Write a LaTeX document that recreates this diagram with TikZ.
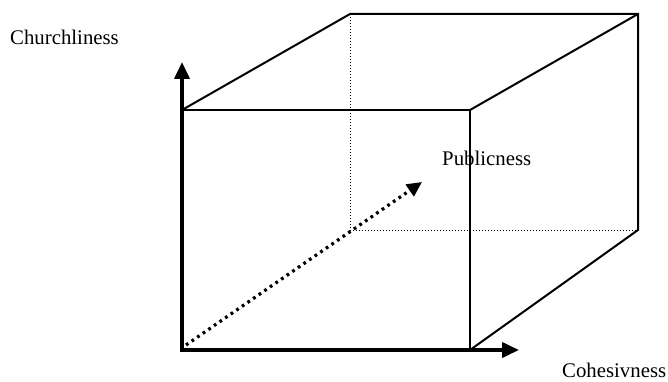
\documentclass[tikz,border=0pt]{standalone}
\usepackage{fontspec}
\setmainfont{Liberation Serif}
\usetikzlibrary{arrows.meta}
\begin{document}
\begin{tikzpicture}[x=1pt,y=-1pt,
  edge/.style={line width=2pt},
  hidden/.style={line width=1pt,dash pattern=on 1.2pt off 1.8pt},
  axis/.style={line width=3.8pt,-{Triangle[length=17pt,width=15pt]}},
  depth/.style={line width=3.2pt,dash pattern=on 2.8pt off 4pt,-{Triangle[length=15pt,width=14pt]}},
  lbl/.style={anchor=base west,inner sep=0pt,font=\fontsize{20.8}{24}\selectfont}]
\useasboundingbox (0,0) rectangle (668,382);
% front face
\coordinate (A) at (182,350);
\coordinate (B) at (470,350);
\coordinate (C) at (470,110);
\coordinate (D) at (182,110);
% back face
\coordinate (E) at (350,230);
\coordinate (F) at (638,230);
\coordinate (G) at (638,14);
\coordinate (H) at (350,14);
% axis ends
\coordinate (Ytip) at (182,62);
\coordinate (Xtip) at (519,350);
\coordinate (Zs) at (186,345);
\coordinate (Ztip) at (422,182);
\draw[edge] (A) -- (B) -- (C) -- (D) -- cycle;
\draw[edge] (D) -- (H) -- (G) -- (F) -- (B);
\draw[edge] (C) -- (G);
\draw[hidden] (H) -- (E) -- (F);
\draw[axis] ([yshift=1.9pt]A) -- (Ytip);
\draw[axis] ([xshift=-1.9pt]A) -- (Xtip);
\draw[depth] (Zs) -- (Ztip);
\node[lbl] (ch) at (10,45) {Churchliness};
\node[lbl] (pu) at (442,165) {Publicness};
\node[lbl] (co) at (562,377) {Cohesivness};
\end{tikzpicture}
\end{document}
